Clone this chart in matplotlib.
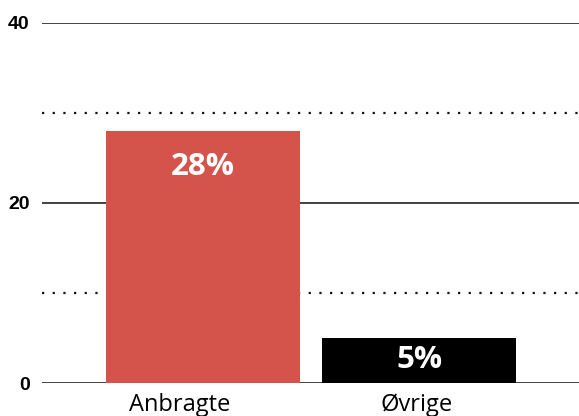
import matplotlib
matplotlib.use("Agg")
import matplotlib.pyplot as plt
from matplotlib.transforms import ScaledTranslation

categories = ["Anbragte", "Øvrige"]
values = [28, 5]
labels = ["28%", "5%"]
colors = ["#d4534b", "#000000"]
yticks = [0, 20, 40]

fig = plt.figure(figsize=(5.79, 4.16), dpi=100)
ax = fig.add_axes([42/579, 1 - 383/416, 537/579, 360/416])

x = range(len(categories))
ax.bar(x, values, width=0.9, color=colors, zorder=2)

for v in yticks:
    ax.axhline(v, color="#222222", lw=1.2, zorder=1)
for v in [10, 30]:
    ax.axhline(v, color="#111111", lw=1.6, ls=(0, (1.0, 3.8)), zorder=1)

for i, (v, lab) in enumerate(zip(values, labels)):
    ypos = v - 4.0 if v > 10 else v / 2
    ax.text(i, ypos, lab, ha="center", va="center", color="white",
            fontsize=22.5, fontweight="bold", family="Open Sans", zorder=3)

ax.set_xlim(-0.745, 1.74)
ax.set_ylim(0, 40)
ax.set_yticks(yticks)
ax.set_yticklabels([str(t) for t in yticks], fontweight="bold", family="Liberation Sans", fontsize=14)
ax.set_xticks(list(x))
ax.set_xticklabels(categories, family="Open Sans", fontsize=17)
ax.tick_params(axis="y", length=0, pad=9)
ax.tick_params(axis="x", length=0, pad=7)
shifts = [-23, -2]
for lbl, dx in zip(ax.get_xticklabels(), shifts):
    lbl.set_transform(lbl.get_transform() + ScaledTranslation(dx / 100, 0, fig.dpi_scale_trans))
for s in ax.spines.values():
    s.set_visible(False)

fig.savefig("out.png", dpi=100)
